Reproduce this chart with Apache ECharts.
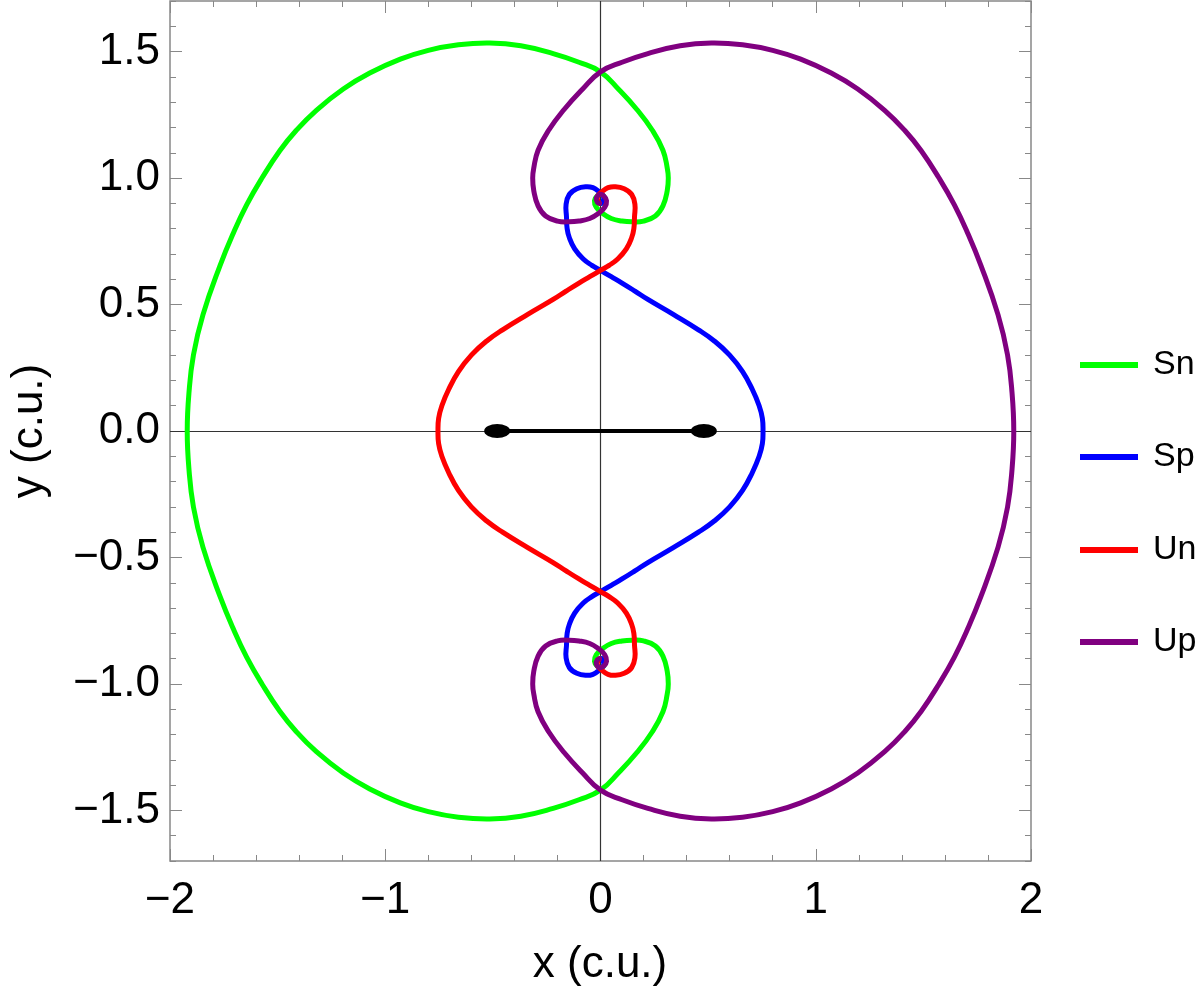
<!DOCTYPE html>
<html><head><meta charset="utf-8">
<script src="https://cdn.jsdelivr.net/npm/echarts@6/dist/echarts.min.js"></script>
<style>html,body{margin:0;padding:0;background:#fff}#c{width:1200px;height:995px}</style>
</head><body><div id="c"></div>
<script>
// Upper half of the "Sn" curve, from the spiral centre outwards to the x axis
const snUpperX = [0.005,0.015,0.02,0.005,-0.015,-0.028,-0.02,0.01,0.05,0.1,0.145,0.2,0.255,0.29,0.31,0.315,0.31,0.29,0.24,0.17,0.085,0.0,-0.1,-0.22,-0.37,-0.515,-0.66,-0.8,-0.93,-1.072,-1.195,-1.32,-1.413,-1.49,-1.572,-1.644,-1.706,-1.768,-1.847,-1.891,-1.912,-1.92];
const snUpperY = [0.9,0.905,0.92,0.935,0.93,0.91,0.885,0.86,0.84,0.83,0.827,0.83,0.85,0.89,0.95,1.0,1.04,1.11,1.19,1.27,1.35,1.42,1.458,1.492,1.523,1.534,1.527,1.505,1.470,1.415,1.352,1.268,1.189,1.108,1.001,0.894,0.782,0.653,0.459,0.301,0.150,0.0];
// Upper half of the "Sp" curve
const spUpperX = [0.005,0.015,-0.01,-0.035,-0.066,-0.11,-0.145,-0.16,-0.158,-0.155,-0.145,-0.12,-0.08,-0.04,0.0,0.05,0.1,0.16,0.22,0.34,0.455,0.53,0.6,0.66,0.705,0.737,0.752,0.755];
const spUpperY = [0.9,0.925,0.948,0.962,0.966,0.958,0.935,0.895,0.847,0.80,0.765,0.72,0.68,0.655,0.635,0.61,0.585,0.553,0.52,0.46,0.40,0.355,0.30,0.235,0.165,0.10,0.05,0.0];
// Rod
const rodX = [-0.48,0.48];
const rodY = [0,0];
const seriesNames = ['Sn','Sp','Un','Up'];
const seriesColors = ['#00ff00','#0000ff','#ff0000','#800080'];
const xTicks = [-2,-1,0,1,2];
const yTicks = [-1.5,-1.0,-0.5,0.0,0.5,1.0,1.5];

function fullCurve(xs, ys, sx){
  const up = xs.map((x,i)=>[sx*x, ys[i]]);
  const down = up.slice(0,-1).reverse().map(p=>[p[0], -p[1]]);
  return up.concat(down);
}
const curves = [
  fullCurve(snUpperX, snUpperY, 1),
  fullCurve(spUpperX, spUpperY, 1),
  fullCurve(spUpperX, spUpperY, -1),
  fullCurve(snUpperX, snUpperY, -1)
];
function range(a,b,s){const r=[];for(let v=a;v<=b+1e-9;v+=s)r.push(+v.toFixed(2));return r;}
const xMinor = range(-2,2,0.2), yMinor = range(-1.7,1.7,0.1);
const minus = s => String(s).replace('-', '\u2212');
const F = 'Liberation Sans, Arial, sans-serif';

function xAx(pos, ticks, len, labels){
  return {type:'value', min:-2, max:2, position:pos, gridIndex:0,
    axisLine:{show:false, onZero:false}, splitLine:{show:false},
    axisTick:{show:true, inside:true, length:len, customValues:ticks, lineStyle:{color:'#888'}},
    axisLabel:{show:labels, customValues:ticks, fontSize:44, color:'#000', fontFamily:F, margin:18, formatter:v=>minus(v)}};
}
function yAx(pos, ticks, len, labels){
  return {type:'value', min:-1.7, max:1.7, position:pos, gridIndex:0,
    axisLine:{show:false, onZero:false}, splitLine:{show:false},
    axisTick:{show:true, inside:true, length:len, customValues:ticks, lineStyle:{color:'#888'}},
    axisLabel:{show:labels, customValues:ticks, fontSize:44, color:'#000', fontFamily:F, margin:10, formatter:v=>minus(v.toFixed(1))}};
}

// Smooth curve through the data points, positioned by the axes (api.coord)
function makeRender(pts, color){
  return function(params, api){
    if (params.dataIndex !== 0) return null;
    const P = pts.map(p=>api.coord(p));
    return {type:'polyline', shape:{points:P, smooth:0.45},
      style:{stroke:color, lineWidth:5, fill:null, lineJoin:'round', lineCap:'round'}, silent:true};
  };
}

const series = curves.map((d,i)=>({
  name:seriesNames[i], type:'custom', data:d, renderItem:makeRender(d, seriesColors[i]),
  encode:{x:0,y:1}, itemStyle:{color:seriesColors[i]}, z:3, clip:false
}));
series.push({
  name:'rod', type:'line', data:rodX.map((x,i)=>[x,rodY[i]]), symbol:'circle', symbolSize:[26,14],
  showSymbol:true, lineStyle:{width:4,color:'#000'}, itemStyle:{color:'#000'}, z:4,
  markLine:{silent:true, symbol:'none', label:{show:false}, lineStyle:{color:'#333',width:1.2,type:'solid'},
    data:[{xAxis:0},{yAxis:0}], z:1}
});
const legendCenters = [360,452,545,637];
const legends = seriesNames.map((n,i)=>({
  orient:'vertical', left:1075, top:legendCenters[i]-20, itemWidth:58, itemHeight:6, icon:'rect',
  data:[{name:n, itemStyle:{color:seriesColors[i]}}], textStyle:{fontSize:34, lineHeight:40, fontFamily:F, color:'#000', padding:[0,0,0,10]}
}));

const chart = echarts.init(document.getElementById('c'));
chart.setOption({
  animation:false,
  grid:{left:170, right:169, top:1, bottom:134, show:true, borderColor:'#888', borderWidth:1.5},
  xAxis:[xAx('bottom', xTicks, 12, true), xAx('bottom', xMinor, 6, false), xAx('top', xTicks, 12, false), xAx('top', xMinor, 6, false)],
  yAxis:[yAx('left', yTicks, 12, true), yAx('left', yMinor, 6, false), yAx('right', yTicks, 12, false), yAx('right', yMinor, 6, false)],
  legend:legends,
  graphic:[
    {type:'text', x:600, y:965, style:{text:'x (c.u.)', font:'44px '+F, fill:'#000', textAlign:'center', textVerticalAlign:'middle'}},
    {type:'text', x:30, y:431, rotation:Math.PI/2, style:{text:'y (c.u.)', font:'44px '+F, fill:'#000', textAlign:'center', textVerticalAlign:'middle'}}
  ],
  series
});
</script></body></html>
